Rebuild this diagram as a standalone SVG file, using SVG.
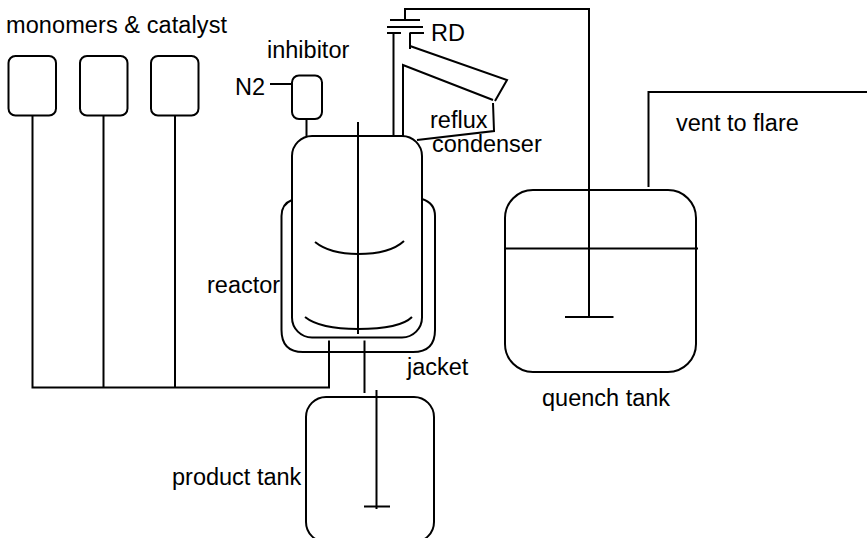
<svg xmlns="http://www.w3.org/2000/svg" width="867" height="538" viewBox="0 0 867 538">
<style>
.s{fill:none;stroke:#000;stroke-width:2}
.t{font-family:"Liberation Sans",Arial,sans-serif;font-size:23.500px;fill:#000}
</style>
<rect width="867" height="538" fill="#fff"/>
<g id="connectors" class="s">
<path d="M32.500 115.500V387.500H329V340.500"/>
<path d="M103.500 115.500V387.500"/>
<path d="M175 115.500V387.500"/>
<path d="M270 84H292"/>
<path d="M306.500 119V137"/>
<path d="M364.500 340.500V393"/>
<path d="M393.500 33V136"/>
<path d="M648.500 187V92H867"/>
<path d="M405 20V9H589V317"/>
</g>
<g id="monomer-tank-1"><rect class="s" x="8.500" y="56" width="47.500" height="59.500" rx="7"/></g>
<g id="monomer-tank-2"><rect class="s" x="80" y="56" width="47.500" height="59.500" rx="7"/></g>
<g id="monomer-tank-3"><rect class="s" x="151" y="56" width="47.500" height="59.500" rx="7"/></g>
<g id="inhibitor-tank"><rect class="s" x="292" y="75.500" width="30" height="43.500" rx="7"/></g>
<g id="reactor">
<rect class="s" x="292" y="136" width="130" height="201.500" rx="20"/>
<path class="s" d="M358 122V334"/>
<path class="s" d="M315 242Q330 254 358 254Q390 254 404 241"/>
<path class="s" d="M305 317Q320 329 358 329Q400 329 412 317"/>
</g>
<g id="jacket"><path class="s" d="M292 200Q281.500 204 281.500 216V330Q281.500 352 303 352H413Q435 352 435 330V216Q435 203 422 199"/></g>
<g id="rupture-disc">
<path class="s" d="M390 20H420"/>
<path class="s" d="M387 27H423"/>
<path class="s" d="M387 33H401"/>
<path class="s" d="M409.500 33H424"/>
</g>
<g id="reflux-condenser">
<path class="s" d="M410 33V49"/>
<path class="s" d="M410 46L507 80L495 101"/>
<path class="s" d="M493 100L403 65V136"/>
<path class="s" d="M493 103L494 131L417 140"/>
</g>
<g id="quench-tank">
<rect class="s" x="505" y="190" width="191" height="182" rx="28"/>
<path class="s" d="M505 248.500H698"/>
<path class="s" d="M565 317H613.500"/>
</g>
<g id="product-tank">
<rect class="s" x="306" y="397" width="128" height="145" rx="20"/>
<path class="s" d="M376.500 390V509"/>
<path class="s" d="M364 506.500H390"/>
</g>
<g id="labels">
<text class="t" x="6" y="33" textLength="221">monomers &amp; catalyst</text>
<text class="t" x="267" y="58">inhibitor</text>
<text class="t" x="235" y="95">N2</text>
<text class="t" x="431" y="41">RD</text>
<text class="t" x="430" y="128">reflux</text>
<text class="t" x="432" y="152">condenser</text>
<text class="t" x="676" y="131">vent to flare</text>
<text class="t" x="207" y="293">reactor</text>
<text class="t" x="407" y="375">jacket</text>
<text class="t" x="542" y="406">quench tank</text>
<text class="t" x="172" y="485">product tank</text>
</g>
</svg>
